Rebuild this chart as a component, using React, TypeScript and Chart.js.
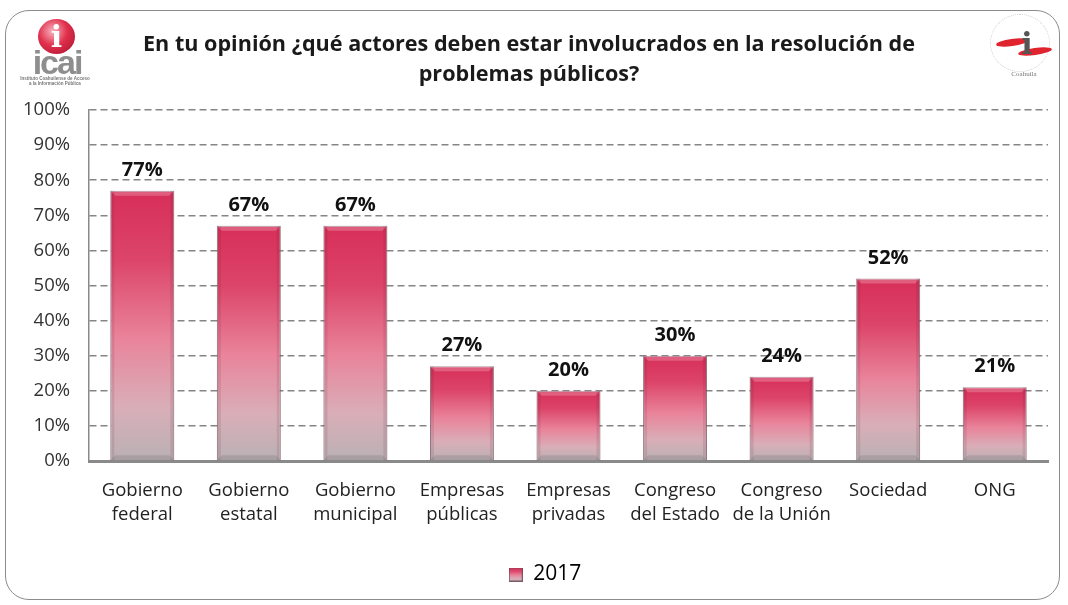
import React, { useEffect, useRef } from "react";
import { Chart, registerables } from "chart.js";

Chart.register(...registerables);

const titleLines = [
  "En tu opinión ¿qué actores deben estar involucrados en la resolución de",
  "problemas públicos?",
];
const categories: (string | string[])[] = [
  ["Gobierno", "federal"],
  ["Gobierno", "estatal"],
  ["Gobierno", "municipal"],
  ["Empresas", "públicas"],
  ["Empresas", "privadas"],
  ["Congreso", "del Estado"],
  ["Congreso", "de la Unión"],
  "Sociedad",
  "ONG",
];
const seriesName = "2017";
const values2017 = [77, 67, 67, 27, 20, 30, 24, 52, 21];
const yMin = 0;
const yMax = 100;
const yStep = 10;

const FONT = "'Open Sans', 'Noto Sans', sans-serif";
const STOPS: [number, string][] = [
  [0, "#d72f59"],
  [0.25, "#dc4469"],
  [0.55, "#e9849b"],
  [0.8, "#d9aeb8"],
  [1, "#b9b1b4"],
];

function makeLegendSwatch(): HTMLCanvasElement {
  const c = document.createElement("canvas");
  c.width = 14;
  c.height = 14;
  const g = c.getContext("2d")!;
  const grad = g.createLinearGradient(0, 0, 0, 14);
  STOPS.forEach(([o, col]) => grad.addColorStop(o, col));
  g.fillStyle = grad;
  g.fillRect(0, 0, 14, 14);
  g.strokeStyle = "rgba(110,70,85,0.8)";
  g.lineWidth = 1;
  g.strokeRect(0.5, 0.5, 13, 13);
  return c;
}

const dataLabelPlugin = {
  id: "dataLabels",
  afterDatasetsDraw(chart: any) {
    const ctx = chart.ctx;
    const meta = chart.getDatasetMeta(0);
    ctx.save();
    ctx.font = `bold 20px ${FONT}`;
    ctx.fillStyle = "#111";
    ctx.textAlign = "center";
    ctx.textBaseline = "alphabetic";
    meta.data.forEach((bar: any, i: number) => {
      const v = chart.data.datasets[0].data[i];
      ctx.fillText(`${v}%`, bar.x, bar.y - 15);
    });
    ctx.restore();
  },
};

const bevelPlugin = {
  id: "bevel",
  afterDatasetsDraw(chart: any) {
    const ctx = chart.ctx;
    const meta = chart.getDatasetMeta(0);
    ctx.save();
    meta.data.forEach((bar: any) => {
      const w = bar.width;
      const left = bar.x - w / 2;
      const top = bar.y;
      const bottom = bar.base;
      ctx.fillStyle = "rgba(255,255,255,0.22)";
      ctx.beginPath();
      ctx.moveTo(left, top);
      ctx.lineTo(left + w, top);
      ctx.lineTo(left + w - 5, top + 5);
      ctx.lineTo(left + 5, top + 5);
      ctx.closePath();
      ctx.fill();
      ctx.fillStyle = "rgba(90,30,50,0.12)";
      ctx.fillRect(left, top, 4, bottom - top);
      ctx.fillRect(left + w - 4, top, 4, bottom - top);
      ctx.fillStyle = "rgba(90,80,85,0.18)";
      ctx.beginPath();
      ctx.moveTo(left, bottom);
      ctx.lineTo(left + w, bottom);
      ctx.lineTo(left + w - 5, bottom - 5);
      ctx.lineTo(left + 5, bottom - 5);
      ctx.closePath();
      ctx.fill();
    });
    ctx.restore();
  },
};

const legendShiftPlugin = {
  id: "legendShift",
  afterLayout(chart: any) {
    if (chart.legend) {
      chart.legend.left += 32;
    }
  },
};

export default function App() {
  const ref = useRef<HTMLCanvasElement | null>(null);

  useEffect(() => {
    if (!ref.current) return;
    const swatch = makeLegendSwatch();
    const chart = new Chart(ref.current, {
      type: "bar",
      data: {
        labels: categories,
        datasets: [
          {
            label: seriesName,
            data: values2017,
            backgroundColor: (context: any) => {
              const ch = context.chart;
              const y = ch.scales?.y;
              if (!ch.chartArea || !y || context.type !== "data") return STOPS[2][1];
              const v = context.parsed?.y ?? values2017[context.dataIndex];
              const top = y.getPixelForValue(v);
              const bottom = y.getPixelForValue(0);
              if (!isFinite(top) || !isFinite(bottom) || top === bottom) return STOPS[2][1];
              const g = ch.ctx.createLinearGradient(0, top, 0, bottom);
              STOPS.forEach(([o, col]) => g.addColorStop(o, col));
              return g;
            },
            borderColor: "rgba(120,90,100,0.75)",
            borderWidth: 1,
            barPercentage: 0.6,
            categoryPercentage: 1,
          },
        ],
      },
      options: {
        responsive: false,
        animation: false,
        layout: { padding: { left: 10, right: 20, top: 0, bottom: 10 } },
        plugins: {
          title: {
            display: true,
            text: titleLines,
            color: "#1a1a1a",
            font: { family: FONT, size: 21.6, weight: "bold", lineHeight: 1.39 },
            padding: { top: 30, bottom: 20 },
          },
          legend: {
            display: true,
            position: "bottom",
            labels: {
              usePointStyle: true,
              pointStyleWidth: 14,
              color: "#222",
              font: { family: FONT, size: 21 },
              padding: 9,
              generateLabels: () => [
                {
                  text: seriesName,
                  pointStyle: swatch,
                  fillStyle: STOPS[0][1],
                  strokeStyle: STOPS[0][1],
                  lineWidth: 0,
                  hidden: false,
                  datasetIndex: 0,
                } as any,
              ],
            },
          },
          tooltip: { enabled: false },
        },
        scales: {
          x: {
            grid: { display: false, drawTicks: false },
            border: { display: true, color: "#8a8a8a", width: 3 },
            ticks: {
              color: "#222",
              font: { family: FONT, size: 18.5, lineHeight: 1.3 },
              padding: 18,
              maxRotation: 0,
              autoSkip: false,
            },
            afterFit: (scale: any) => {
              scale.height = 94;
            },
          },
          y: {
            min: yMin,
            max: yMax,
            grid: {
              color: "#858585",
              lineWidth: 1.6,
              drawTicks: false,
            },
            border: { display: true, color: "#8a8a8a", width: 1.5, dash: [7, 4] },
            ticks: {
              stepSize: yStep,
              color: "#333",
              font: { family: FONT, size: 18.5 },
              padding: 19,
              callback: (v: any) => `${v}%`,
            },
            afterFit: (scale: any) => {
              scale.width = 79;
            },
          },
        },
      },
      plugins: [dataLabelPlugin, bevelPlugin, legendShiftPlugin],
    } as any);
    (chart.options.scales as any).y.grid.borderDash = [7, 4];
    (chart.options.scales as any).y.border.dash = [7, 4];
    chart.update();
    return () => chart.destroy();
  }, []);

  return (
    <div style={{ position: "fixed", left: 0, top: 0, width: 1068, height: 605, background: "#fff", overflow: "hidden" }}>
      <div
        style={{
          position: "absolute",
          left: 5,
          top: 10,
          width: 1055,
          height: 590,
          border: "1.5px solid #8c8c8c",
          borderRadius: 24,
          boxSizing: "border-box",
        }}
      />
      <canvas ref={ref} width={1068} height={605} style={{ position: "absolute", left: 0, top: 0 }} />
      {/* left logo */}
      <div style={{ position: "absolute", left: 38, top: 19, width: 37, height: 35, borderRadius: "50%",
        background: "radial-gradient(circle at 40% 35%, #f8b4bf 0%, #e0304c 45%, #a5102c 100%)",
        color: "#fff", fontFamily: "'DejaVu Serif', serif", fontWeight: "bold", fontSize: 30, lineHeight: "35px", textAlign: "center" }}>i</div>
      <div style={{ position: "absolute", left: 22, top: 45, width: 70, textAlign: "center", fontFamily: "'Liberation Sans', Arial, sans-serif",
        fontWeight: "bold", fontSize: 34, lineHeight: 1, color: "#8e8e8e", letterSpacing: -2 }}>icai</div>
      <div style={{ position: "absolute", left: 10, top: 76, width: 90, textAlign: "center", fontFamily: "'Liberation Sans', Arial, sans-serif",
        fontWeight: "bold", fontSize: 4.5, lineHeight: "5px", color: "#777" }}>
        Instituto Coahuilense de Acceso<br />a la Información Pública
      </div>
      {/* right logo */}
      <div style={{ position: "absolute", left: 982, top: 8, width: 80, height: 72 }}>
        <div style={{ position: "absolute", left: 8, top: 6, width: 58, height: 56, borderRadius: "50%", border: "1.5px dotted #cfcfcf" }} />
        <div style={{ position: "absolute", left: 14, top: 31, width: 32, height: 7, borderRadius: "50%", background: "#e0242f", transform: "rotate(-8deg)" }} />
        <div style={{ position: "absolute", left: 36, top: 40, width: 34, height: 7, borderRadius: "50%", background: "#e0242f", transform: "rotate(-8deg)" }} />
        <div style={{ position: "absolute", left: 35, top: 18, width: 20, textAlign: "center", fontFamily: "'DejaVu Serif', serif",
          fontWeight: "bold", fontSize: 30, lineHeight: "36px", color: "#555" }}>i</div>
        <div style={{ position: "absolute", left: 20, top: 62, width: 44, textAlign: "center", fontFamily: "'Liberation Serif', serif",
          fontSize: 7, color: "#777" }}>Coahuila</div>
      </div>
    </div>
  );
}
